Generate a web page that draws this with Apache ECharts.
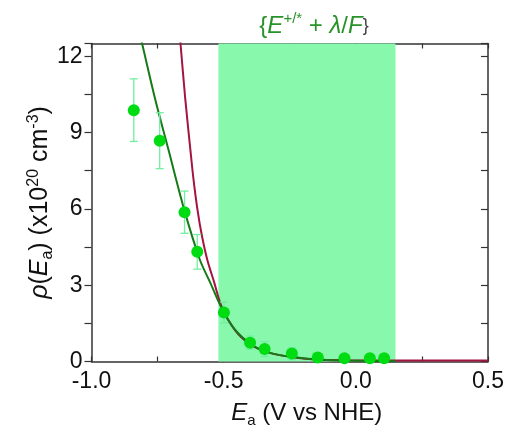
<!DOCTYPE html>
<html>
<head>
<meta charset="utf-8">
<script src="https://cdn.jsdelivr.net/npm/echarts@6/dist/echarts.min.js"></script>
<style>
  html, body { margin: 0; padding: 0; background: #fff; }
  #chart { width: 508px; height: 429px; }
</style>
</head>
<body>
<div id="chart"></div>
<script>
// Measured density of states rho(E_a) in units of 1e20 cm^-3, with error bars
const pointE   = [-0.840, -0.742, -0.648, -0.600, -0.499, -0.400, -0.345, -0.242, -0.144, -0.043, 0.053, 0.107];
const pointRho = [9.88, 8.68, 5.87, 4.31, 1.93, 0.74, 0.49, 0.31, 0.16, 0.13, 0.13, 0.13];
const pointErr = [1.23, 1.10, 0.83, 0.68, 0.41, 0.26, 0.29, 0.23, 0.10, 0.08, 0.08, 0.08];

// Model curve drawn in dark green
const greenE   = [-0.830, -0.808, -0.760, -0.709, -0.649, -0.590, -0.550, -0.498, -0.445, -0.381, -0.318, -0.230, -0.150, -0.050, 0.050, 0.150];
const greenRho = [13.40, 12.47, 10.35, 8.33, 5.96, 4.00, 3.08, 1.90, 1.11, 0.58, 0.32, 0.165, 0.08, 0.04, 0.02, 0.01];

// Model curve drawn in crimson
const redE   = [-0.668, -0.663, -0.645, -0.626, -0.614, -0.599, -0.583, -0.562, -0.535, -0.517, -0.497, -0.446, -0.383, -0.319, -0.231, -0.150, -0.050, 0.100, 0.300, 0.500];
const redRho = [13.05, 12.46, 10.29, 8.33, 7.15, 5.96, 4.98, 4.00, 3.08, 2.43, 1.90, 1.09, 0.57, 0.32, 0.16, 0.08, 0.05, 0.04, 0.04, 0.04];

// Shaded potential window {E+/* + lambda/F}
const windowE = [-0.52, 0.15];

// Labelled tick values
const xLabelValues = [-1.0, -0.5, 0.0, 0.5];
const yLabelValues = [0, 3, 6, 9, 12];

const FONT = '"Liberation Sans", Arial, sans-serif';
const INK = '#111';
const AXIS = '#333';

function richSet(size, color) {
  const base = { fontFamily: FONT, fontSize: size, color: color, fontWeight: 'normal', lineHeight: 30 };
  const small = { fontFamily: FONT, fontSize: Math.round(size * 0.62), color: color, fontWeight: 'normal', lineHeight: 12 };
  return {
    n:   Object.assign({}, base),
    i:   Object.assign({ fontStyle: 'italic' }, base),
    sub: Object.assign({ verticalAlign: 'bottom' }, small),
    sup: Object.assign({ verticalAlign: 'top' }, small)
  };
}

const isOneOf = (v, list) => list.some(t => Math.abs(t - v) < 1e-9);

const chart = echarts.init(document.getElementById('chart'), null, { renderer: 'canvas' });

const xBase = {
  type: 'value', min: -1, max: 0.5, interval: 0.25,
  splitLine: { show: false },
  axisLine: { show: true, onZero: false, lineStyle: { color: AXIS, width: 1.5 } },
  axisTick: { show: true, inside: true, length: 5, lineStyle: { color: AXIS, width: 1.2 } }
};
const yBase = {
  type: 'value', min: 0, max: 12.5, interval: 1.5,
  splitLine: { show: false },
  axisLine: { show: true, onZero: false, lineStyle: { color: AXIS, width: 1.5 } }
};

chart.setOption({
  animation: false,
  backgroundColor: '#fff',
  title: {
    text: '{n|\{}{i|E}{sup|+/*}{n| + }{i|λ}{n|/}{i|F}{n|\}}',
    left: 309, top: 6, textAlign: 'center',
    textStyle: { fontWeight: 'normal', rich: richSet(24, '#2a922a') }
  },
  grid: { left: 91.5, right: 20, top: 43.5, bottom: 67.5, containLabel: false, outerBoundsMode: 'none' },
  xAxis: [
    Object.assign({}, xBase, {
      position: 'bottom',
      axisLabel: {
        show: true, margin: 9, fontFamily: FONT, fontSize: 23, color: INK,
        formatter: v => isOneOf(v, xLabelValues) ? v.toFixed(1) : ''
      },
      name: '{i|E}{sub|a}{n| (V vs NHE)}',
      nameLocation: 'middle', nameGap: 37, nameMoveOverlap: false,
      nameTextStyle: { padding: [0, 0, 0, 34], rich: richSet(24, INK) }
    }),
    Object.assign({}, xBase, { position: 'top', axisLabel: { show: false } })
  ],
  yAxis: [
    Object.assign({}, yBase, {
      position: 'left',
      axisTick: { show: true, inside: false, length: 7, lineStyle: { color: AXIS, width: 1.2 } },
      axisLabel: {
        show: true, margin: 9, fontFamily: FONT, fontSize: 23, color: INK,
        formatter: v => isOneOf(v, yLabelValues) ? String(v) : ''
      },
      name: '{i|ρ}{n|(}{i|E}{sub|a}{n|) (x10}{sup|20}{n| cm}{sup|-3}{n|)}',
      nameLocation: 'middle', nameRotate: 90, nameGap: 36, nameMoveOverlap: false,
      nameTextStyle: { rich: richSet(25, INK) }
    }),
    Object.assign({}, yBase, {
      position: 'right',
      axisTick: { show: true, inside: true, length: 7, lineStyle: { color: AXIS, width: 1.2 } },
      axisLabel: { show: false }
    })
  ],
  series: [
    {
      // carrier of the shaded potential window
      type: 'line', data: [], xAxisIndex: 0, yAxisIndex: 0, z: 1,
      markArea: {
        silent: true,
        itemStyle: { color: '#88f8ad' },
        data: [[{ xAxis: windowE[0] }, { xAxis: windowE[1] }]]
      }
    },
    {
      type: 'line', z: 3,
      data: redE.map((e, k) => [e, redRho[k]]),
      smooth: 0.3, showSymbol: false, clip: true,
      lineStyle: { color: '#a3143f', width: 2 }
    },
    {
      type: 'line', z: 4,
      data: greenE.map((e, k) => [e, greenRho[k]]),
      smooth: 0.3, showSymbol: false, clip: true,
      lineStyle: { color: '#167a18', width: 2 }
    },
    {
      // vertical error bars with caps
      type: 'custom', z: 5,
      data: pointE.map((e, k) => [e, pointRho[k] - pointErr[k], pointRho[k] + pointErr[k]]),
      encode: { x: 0, y: [1, 2] },
      renderItem: (params, api) => {
        const lo = api.coord([api.value(0), api.value(1)]);
        const hi = api.coord([api.value(0), api.value(2)]);
        const cap = 4;
        const st = { stroke: '#72eea2', lineWidth: 1.3 };
        return {
          type: 'group',
          children: [
            { type: 'line', shape: { x1: lo[0], y1: lo[1], x2: hi[0], y2: hi[1] }, style: st },
            { type: 'line', shape: { x1: lo[0] - cap, y1: lo[1], x2: lo[0] + cap, y2: lo[1] }, style: st },
            { type: 'line', shape: { x1: hi[0] - cap, y1: hi[1], x2: hi[0] + cap, y2: hi[1] }, style: st }
          ]
        };
      }
    },
    {
      type: 'scatter', z: 6,
      data: pointE.map((e, k) => [e, pointRho[k]]),
      symbol: 'circle', symbolSize: 12,
      itemStyle: { color: '#00dc12', opacity: 1 }
    }
  ]
});
</script>
</body>
</html>
